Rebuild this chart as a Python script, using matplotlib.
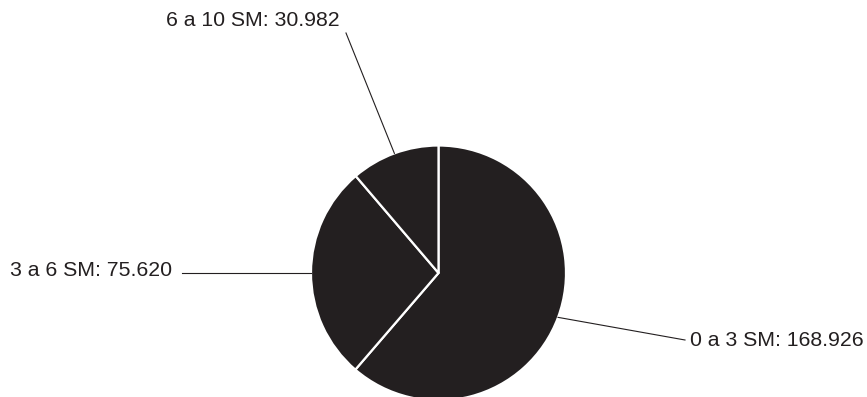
import numpy as np
import matplotlib.pyplot as plt

plt.rcParams['font.family'] = ['Liberation Sans', 'DejaVu Sans']

labels = ['0 a 3 SM', '3 a 6 SM', '6 a 10 SM']
values = [168.926, 75.620, 30.982]
value_text = ['168.926', '75.620', '30.982']

# where each leader line ends and where its text sits (pixel-ish coords, y up)
line_end = [(685, 57), (182, 124), (346, 364)]
text_pos = [(690, 56, 'left'), (172, 126, 'right'), (340, 377, 'right')]

fig = plt.figure(figsize=(8.67, 3.97), dpi=100)
ax = fig.add_axes([0, 0, 1, 1])
ax.set_xlim(0, 867)
ax.set_ylim(0, 397)
ax.set_aspect('equal')
ax.axis('off')

cx, cy, r = 438.5, 124, 127.5
wedges, _ = ax.pie(values, startangle=90, counterclock=False,
                   center=(cx, cy), radius=r, colors=['#231f20'] * 3,
                   wedgeprops=dict(edgecolor='white', linewidth=1.6))
ax.set_xlim(0, 867)
ax.set_ylim(0, 397)

for i, w in enumerate(wedges):
    mid = np.deg2rad((w.theta1 + w.theta2) / 2)
    ex, ey = cx + r * np.cos(mid), cy + r * np.sin(mid)
    lx, ly = line_end[i]
    if i == 1:
        ey = ly
    ax.plot([ex, lx], [ey, ly], color='#231f20', lw=0.8)
    tx, ty, ha = text_pos[i]
    ax.text(tx, ty, f'{labels[i]}: {value_text[i]}', ha=ha, va='center',
            fontsize=15.3, color='#231f20')

fig.savefig('out.png', dpi=100)
